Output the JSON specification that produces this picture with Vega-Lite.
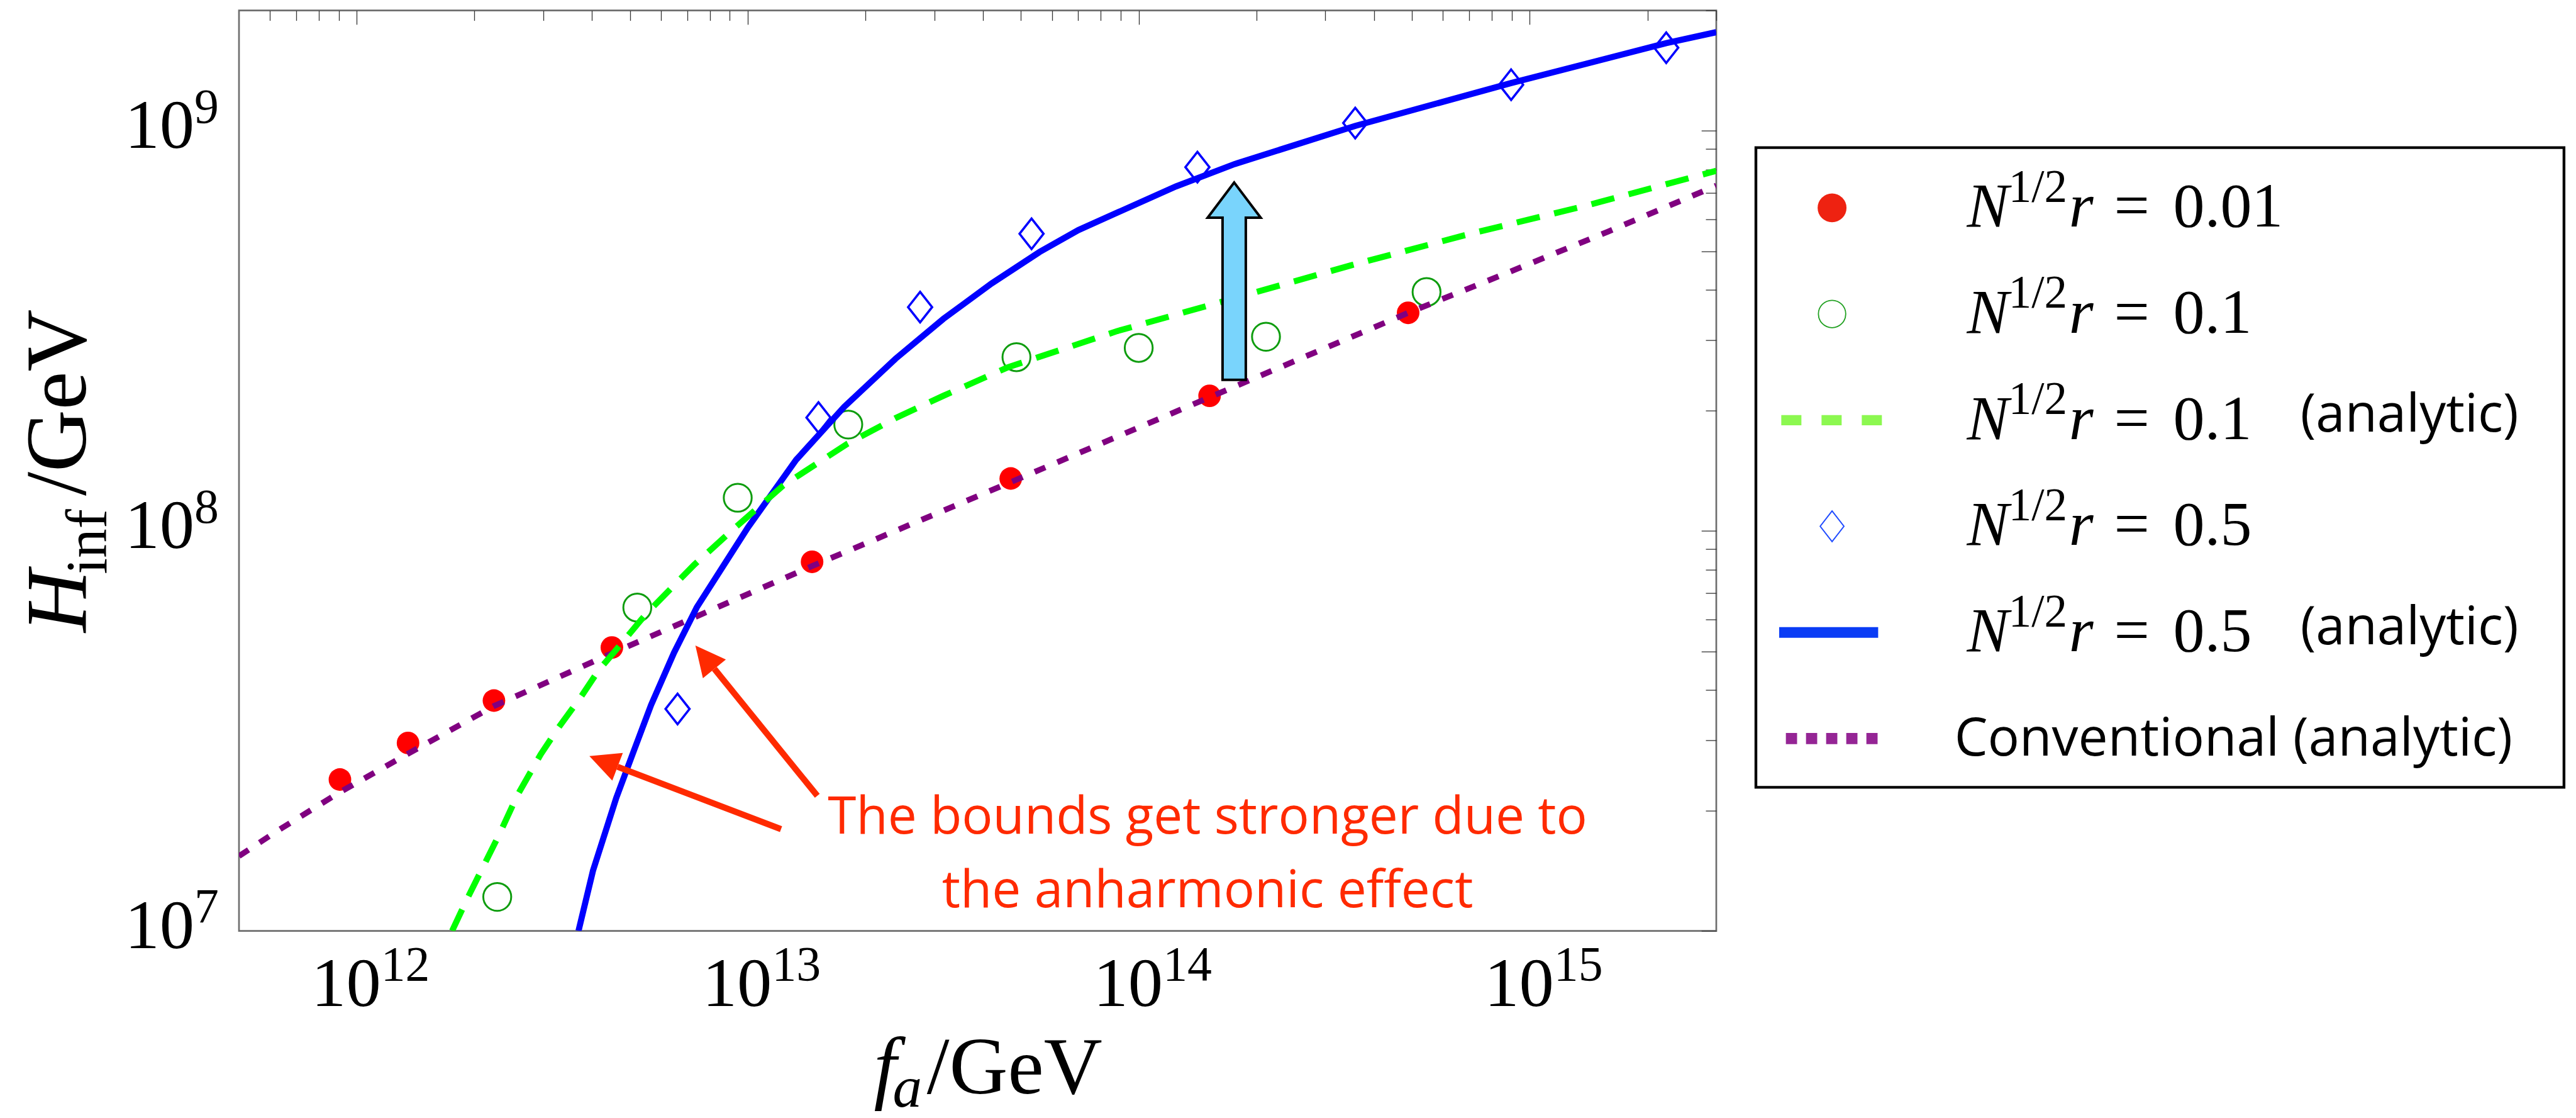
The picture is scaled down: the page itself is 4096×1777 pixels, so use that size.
{
  "$schema": "https://vega.github.io/schema/vega-lite/v6.json",
  "background": "white",
  "autosize": {"type": "pad"},
  "padding": {"left": 25, "top": 14.6, "right": 0, "bottom": 0},
  "config": {"view": {"stroke": null}},
  "datasets": {
    "red": [
      {"f": 9.06e11, "H": 2.39e7}, {"f": 1.353e12, "H": 2.95e7}, {"f": 2.244e12, "H": 3.765e7},
      {"f": 4.494e12, "H": 5.11e7}, {"f": 1.461e13, "H": 8.37e7}, {"f": 4.707e13, "H": 1.352e8},
      {"f": 1.518e14, "H": 2.176e8}, {"f": 4.887e14, "H": 3.509e8}
    ],
    "green": [
      {"f": 2.288e12, "H": 1.216e7}, {"f": 5.22e12, "H": 6.43e7}, {"f": 9.43e12, "H": 1.21e8},
      {"f": 1.808e13, "H": 1.844e8}, {"f": 4.868e13, "H": 2.718e8}, {"f": 1.0e14, "H": 2.867e8},
      {"f": 2.116e14, "H": 3.057e8}, {"f": 5.447e14, "H": 3.955e8}
    ],
    "blue": [
      {"f": 6.616e12, "H": 3.588e7}, {"f": 1.517e13, "H": 1.92e8}, {"f": 2.76e13, "H": 3.625e8},
      {"f": 5.32e13, "H": 5.529e8}, {"f": 1.413e14, "H": 8.115e8}, {"f": 3.579e14, "H": 1.046e9},
      {"f": 8.963e14, "H": 1.304e9}, {"f": 2.234e15, "H": 1.614e9}
    ],
    "conv": [
      {"f": 5.0e11, "H": 1.538e7}, {"f": 6.31e11, "H": 1.786e7}, {"f": 9.064e11, "H": 2.223e7},
      {"f": 1.353e12, "H": 2.773e7}, {"f": 2.244e12, "H": 3.648e7}, {"f": 4.494e12, "H": 4.943e7},
      {"f": 1.461e13, "H": 8.166e7}, {"f": 4.707e13, "H": 1.324e8}, {"f": 1.518e14, "H": 2.158e8},
      {"f": 4.887e14, "H": 3.508e8}, {"f": 8.913e14, "H": 4.446e8}, {"f": 1.585e15, "H": 5.598e8},
      {"f": 3.0e15, "H": 7.295e8}
    ],
    "greenAnalytic": [
      {"f": 1.754e12, "H": 1.0e7}, {"f": 1.927e12, "H": 1.216e7}, {"f": 2.135e12, "H": 1.486e7},
      {"f": 2.326e12, "H": 1.759e7}, {"f": 2.578e12, "H": 2.186e7}, {"f": 2.955e12, "H": 2.762e7},
      {"f": 3.274e12, "H": 3.212e7}, {"f": 3.754e12, "H": 3.86e7}, {"f": 4.16e12, "H": 4.487e7},
      {"f": 4.611e12, "H": 5.047e7}, {"f": 5.471e12, "H": 6.167e7}, {"f": 6.493e12, "H": 7.325e7},
      {"f": 7.293e12, "H": 8.222e7}, {"f": 9.118e12, "H": 1.003e8}, {"f": 1.233e13, "H": 1.299e8},
      {"f": 1.798e13, "H": 1.651e8}, {"f": 2.387e13, "H": 1.913e8}, {"f": 3.168e13, "H": 2.177e8},
      {"f": 4.619e13, "H": 2.562e8}, {"f": 8.806e13, "H": 3.158e8}, {"f": 1.759e14, "H": 3.817e8},
      {"f": 3.513e14, "H": 4.62e8}, {"f": 7.021e14, "H": 5.525e8}, {"f": 1.402e15, "H": 6.511e8},
      {"f": 3.0e15, "H": 7.945e8}
    ],
    "blueAnalytic": [
      {"f": 3.692e12, "H": 1.0e7}, {"f": 4.021e12, "H": 1.415e7}, {"f": 4.611e12, "H": 2.149e7},
      {"f": 5.107e12, "H": 2.809e7}, {"f": 5.661e12, "H": 3.671e7}, {"f": 6.477e12, "H": 4.955e7},
      {"f": 7.408e12, "H": 6.437e7}, {"f": 1.002e13, "H": 1.021e8}, {"f": 1.33e13, "H": 1.505e8},
      {"f": 1.765e13, "H": 2.041e8}, {"f": 2.387e13, "H": 2.692e8}, {"f": 3.168e13, "H": 3.391e8},
      {"f": 4.204e13, "H": 4.153e8}, {"f": 5.578e13, "H": 4.979e8}, {"f": 7.009e13, "H": 5.649e8},
      {"f": 8.806e13, "H": 6.244e8}, {"f": 1.245e14, "H": 7.261e8}, {"f": 1.759e14, "H": 8.26e8},
      {"f": 3.579e14, "H": 1.029e9}, {"f": 8.963e14, "H": 1.317e9}, {"f": 2.236e15, "H": 1.657e9},
      {"f": 3.0e15, "H": 1.765e9}
    ],
    "arrows": [
      {"id": 0, "f0": 1.2167e13, "H0": 1.796e7, "f1": 4.647e12, "H1": 2.572e7},
      {"id": 1, "f0": 1.5066e13, "H0": 2.176e7, "f1": 8.219e12, "H1": 4.519e7}
    ],
    "yticks": [{"v": 1e7, "e": "7"}, {"v": 1e8, "e": "8"}, {"v": 1e9, "e": "9"}],
    "xticks": [{"v": 1e12, "e": "12"}, {"v": 1e13, "e": "13"}, {"v": 1e14, "e": "14"}, {"v": 1e15, "e": "15"}],
    "legend": [
      {"k": 0, "val": "0.01", "note": ""},
      {"k": 1, "val": "0.1", "note": ""},
      {"k": 2, "val": "0.1", "note": "(analytic)"},
      {"k": 3, "val": "0.5", "note": ""},
      {"k": 4, "val": "0.5", "note": "(analytic)"},
      {"k": 5, "val": "", "note": "Conventional (analytic)"}
    ]
  },
  "spacing": 58,
  "hconcat": [
    {
      "width": 2349,
      "height": 1463,
      "view": {"stroke": "#6e6e6e", "strokeWidth": 2.7, "fill": "white"},
      "resolve": {"axis": {"x": "independent", "y": "independent"}},
      "layer": [
        {
          "layer": [
            {
              "data": {"name": "red"},
              "mark": {"type": "point", "shape": "circle", "filled": true, "size": 1290, "color": "#ff0000", "opacity": 1, "strokeWidth": 0},
              "encoding": {
                "x": {
                  "field": "f", "type": "quantitative",
                  "scale": {"type": "log", "domain": [5e11, 3e15], "nice": false},
                  "axis": {
                    "orient": "bottom", "title": null, "labels": false, "domain": false,
                    "values": [6e11, 7e11, 8e11, 9e11, 1e12, 2e12, 3e12, 4e12, 5e12, 6e12, 7e12, 8e12, 9e12, 1e13, 2e13, 3e13, 4e13, 5e13, 6e13, 7e13, 8e13, 9e13, 1e14, 2e14, 3e14, 4e14, 5e14, 6e14, 7e14, 8e14, 9e14, 1e15, 2e15, 3e15],
                    "tickColor": "#333333", "tickWidth": 1.3,
                    "tickSize": {"condition": {"test": "abs(log(datum.value)/LN10 - round(log(datum.value)/LN10)) < 0.001", "value": -22.2}, "value": -16},
                    "grid": true, "gridColor": "#d9d9d9", "gridWidth": 1.4,
                    "gridOpacity": {"condition": {"test": "abs(log(datum.value)/LN10 - round(log(datum.value)/LN10)) < 0.001", "value": 1}, "value": 0}
                  }
                },
                "y": {
                  "field": "H", "type": "quantitative",
                  "scale": {"type": "log", "domain": [1e7, 2e9], "nice": false},
                  "axis": {
                    "orient": "left", "title": null, "labels": false, "domain": false,
                    "values": [1e7, 2e7, 3e7, 4e7, 5e7, 6e7, 7e7, 8e7, 9e7, 1e8, 2e8, 3e8, 4e8, 5e8, 6e8, 7e8, 8e8, 9e8, 1e9, 2e9],
                    "tickColor": "#333333", "tickWidth": 1.3,
                    "tickSize": {"condition": {"test": "abs(log(datum.value)/LN10 - round(log(datum.value)/LN10)) < 0.001 || abs(log(datum.value/5)/LN10 - round(log(datum.value/5)/LN10)) < 0.001", "value": -23.8}, "value": -17},
                    "grid": true, "gridColor": "#d9d9d9", "gridWidth": 1.4,
                    "gridOpacity": {"condition": {"test": "abs(log(datum.value)/LN10 - round(log(datum.value)/LN10)) < 0.001 || abs(log(datum.value/5)/LN10 - round(log(datum.value/5)/LN10)) < 0.001", "value": 1}, "value": 0}
                  }
                }
              }
            },
            {
              "data": {"name": "green"},
              "mark": {"type": "point", "shape": "circle", "filled": false, "size": 1971, "stroke": "#0f9d0f", "strokeWidth": 3, "opacity": 1},
              "encoding": {
                "x": {"field": "f", "type": "quantitative", "axis": null},
                "y": {"field": "H", "type": "quantitative", "axis": null}
              }
            },
            {
              "data": {"name": "blue"},
              "mark": {"type": "point", "shape": "M0,-1L0.789,0L0,1L-0.789,0Z", "filled": false, "size": 2343, "stroke": "#0000ff", "strokeWidth": 3.6, "opacity": 1},
              "encoding": {
                "x": {"field": "f", "type": "quantitative", "axis": null},
                "y": {"field": "H", "type": "quantitative", "axis": null}
              }
            },
            {
              "data": {"name": "conv"},
              "mark": {"type": "line", "color": "#800080", "strokeWidth": 9.2, "strokeDash": [18.2, 20.9], "clip": true},
              "encoding": {
                "x": {"field": "f", "type": "quantitative", "axis": null},
                "y": {"field": "H", "type": "quantitative", "axis": null}
              }
            },
            {
              "data": {"name": "blueAnalytic"},
              "mark": {"type": "line", "color": "#0000ff", "strokeWidth": 9.8, "clip": true},
              "encoding": {
                "x": {"field": "f", "type": "quantitative", "axis": null},
                "y": {"field": "H", "type": "quantitative", "axis": null}
              }
            },
            {
              "data": {"name": "greenAnalytic"},
              "mark": {"type": "line", "color": "#00ff00", "strokeWidth": 9.7, "strokeDash": [37.5, 23.6], "clip": true},
              "encoding": {
                "x": {"field": "f", "type": "quantitative", "axis": null},
                "y": {"field": "H", "type": "quantitative", "axis": null}
              }
            },
            {
              "data": {"values": [{"f": 1.7545e14, "H": 4.21e8}]},
              "mark": {"type": "point", "shape": "M0,-1L0.269,-0.644L0.118,-0.644L0.118,1L-0.118,1L-0.118,-0.644L-0.269,-0.644Z", "size": 98282, "filled": true, "fill": "#79d4fc", "stroke": "#000000", "strokeWidth": 4, "opacity": 1},
              "encoding": {
                "x": {"field": "f", "type": "quantitative", "axis": null},
                "y": {"field": "H", "type": "quantitative", "axis": null}
              }
            },
            {
              "data": {"name": "arrows"},
              "mark": {"type": "rule", "color": "#ff2a00", "strokeWidth": 9.8},
              "encoding": {
                "x": {"field": "f0", "type": "quantitative", "axis": null},
                "y": {"field": "H0", "type": "quantitative", "axis": null},
                "x2": {"field": "f1"},
                "y2": {"field": "H1"}
              }
            },
            {
              "data": {"name": "arrows"},
              "transform": [{"filter": "datum.id == 0"}],
              "mark": {"type": "point", "shape": "M0,-2L0.98,0L-0.98,0Z", "size": 2300, "filled": true, "color": "#ff2a00", "opacity": 1, "angle": 290.9},
              "encoding": {
                "x": {"field": "f1", "type": "quantitative", "axis": null},
                "y": {"field": "H1", "type": "quantitative", "axis": null}
              }
            },
            {
              "data": {"name": "arrows"},
              "transform": [{"filter": "datum.id == 1"}],
              "mark": {"type": "point", "shape": "M0,-2L0.98,0L-0.98,0Z", "size": 2300, "filled": true, "color": "#ff2a00", "opacity": 1, "angle": 320.95},
              "encoding": {
                "x": {"field": "f1", "type": "quantitative", "axis": null},
                "y": {"field": "H1", "type": "quantitative", "axis": null}
              }
            },
            {
              "data": {"name": "yticks"},
              "mark": {"type": "text", "text": "10", "font": "Liberation Serif", "fontSize": 110.6, "align": "right", "baseline": "alphabetic", "dx": -71, "dy": 27.5, "color": "#000000"},
              "encoding": {
                "x": {"datum": 5e11, "type": "quantitative", "axis": null},
                "y": {"field": "v", "type": "quantitative", "axis": null}
              }
            },
            {
              "data": {"name": "yticks"},
              "mark": {"type": "text", "font": "Liberation Serif", "fontSize": 77.8, "align": "left", "baseline": "alphabetic", "dx": -71, "dy": -13.1, "color": "#000000"},
              "encoding": {
                "text": {"field": "e"},
                "x": {"datum": 5e11, "type": "quantitative", "axis": null},
                "y": {"field": "v", "type": "quantitative", "axis": null}
              }
            },
            {
              "data": {"name": "xticks"},
              "mark": {"type": "text", "text": "10", "font": "Liberation Serif", "fontSize": 110.6, "align": "right", "baseline": "alphabetic", "dx": 38.5, "dy": 119.3, "color": "#000000"},
              "encoding": {
                "x": {"field": "v", "type": "quantitative", "axis": null},
                "y": {"datum": 1e7, "type": "quantitative", "axis": null}
              }
            },
            {
              "data": {"name": "xticks"},
              "mark": {"type": "text", "font": "Liberation Serif", "fontSize": 77.8, "align": "left", "baseline": "alphabetic", "dx": 38.5, "dy": 78.1, "color": "#000000"},
              "encoding": {
                "text": {"field": "e"},
                "x": {"field": "v", "type": "quantitative", "axis": null},
                "y": {"datum": 1e7, "type": "quantitative", "axis": null}
              }
            },
            {
              "data": {"values": [{"s": "H"}]},
              "mark": {"type": "text", "font": "Liberation Serif", "fontStyle": "italic", "fontSize": 136.8, "angle": 270, "align": "left", "baseline": "alphabetic", "dx": -256.9, "dy": -243.8, "color": "#000000"},
              "encoding": {
                "text": {"field": "s"},
                "x": {"datum": 5e11, "type": "quantitative", "axis": null},
                "y": {"datum": 1.41421e8, "type": "quantitative", "axis": null}
              }
            },
            {
              "data": {"values": [{"s": "inf"}]},
              "mark": {"type": "text", "font": "Liberation Serif", "fontSize": 93.2, "angle": 270, "align": "left", "baseline": "alphabetic", "dx": -164.7, "dy": -211.5, "color": "#000000"},
              "encoding": {
                "text": {"field": "s"},
                "x": {"datum": 5e11, "type": "quantitative", "axis": null},
                "y": {"datum": 1.41421e8, "type": "quantitative", "axis": null}
              }
            },
            {
              "data": {"values": [{"s": "/GeV"}]},
              "mark": {"type": "text", "font": "Liberation Serif", "fontSize": 136.8, "angle": 270, "align": "left", "baseline": "alphabetic", "dx": -39.9, "dy": -243.8, "color": "#000000"},
              "encoding": {
                "text": {"field": "s"},
                "x": {"datum": 5e11, "type": "quantitative", "axis": null},
                "y": {"datum": 1.41421e8, "type": "quantitative", "axis": null}
              }
            },
            {
              "data": {"values": [{"s": "f"}]},
              "mark": {"type": "text", "font": "Liberation Serif", "fontStyle": "italic", "fontSize": 128.8, "align": "left", "baseline": "alphabetic", "dx": -165, "dy": 258, "color": "#000000"},
              "encoding": {
                "text": {"field": "s"},
                "x": {"datum": 3.873e13, "type": "quantitative", "axis": null},
                "y": {"datum": 1e7, "type": "quantitative", "axis": null}
              }
            },
            {
              "data": {"values": [{"s": "a"}]},
              "mark": {"type": "text", "font": "Liberation Serif", "fontStyle": "italic", "fontSize": 93.2, "align": "left", "baseline": "alphabetic", "dx": -135, "dy": 279, "color": "#000000"},
              "encoding": {
                "text": {"field": "s"},
                "x": {"datum": 3.873e13, "type": "quantitative", "axis": null},
                "y": {"datum": 1e7, "type": "quantitative", "axis": null}
              }
            },
            {
              "data": {"values": [{"s": "/GeV"}]},
              "mark": {"type": "text", "font": "Liberation Serif", "fontSize": 128.8, "align": "left", "baseline": "alphabetic", "dx": -80.8, "dy": 258, "color": "#000000"},
              "encoding": {
                "text": {"field": "s"},
                "x": {"datum": 3.873e13, "type": "quantitative", "axis": null},
                "y": {"datum": 1e7, "type": "quantitative", "axis": null}
              }
            }
          ]
        },
        {
          "data": {"values": [{"s": "The bounds get stronger due to\nthe anharmonic effect"}]},
          "mark": {"type": "text", "font": "Open Sans", "fontSize": 82, "lineHeight": 117, "lineBreak": "\n", "align": "center", "baseline": "alphabetic", "color": "#ff2a00"},
          "encoding": {
            "text": {"field": "s"},
            "x": {
              "datum": 1.5e14, "type": "quantitative",
              "axis": {
                "orient": "top", "title": null, "labels": false, "domain": false, "grid": false,
                "values": [6e11, 7e11, 8e11, 9e11, 1e12, 2e12, 3e12, 4e12, 5e12, 6e12, 7e12, 8e12, 9e12, 1e13, 2e13, 3e13, 4e13, 5e13, 6e13, 7e13, 8e13, 9e13, 1e14, 2e14, 3e14, 4e14, 5e14, 6e14, 7e14, 8e14, 9e14, 1e15, 2e15, 3e15],
                "tickColor": "#333333", "tickWidth": 1.3,
                "tickSize": {"condition": {"test": "abs(log(datum.value)/LN10 - round(log(datum.value)/LN10)) < 0.001", "value": -22.2}, "value": -16}
              }
            },
            "y": {
              "datum": 1.753e7, "type": "quantitative",
              "axis": {
                "orient": "right", "title": null, "labels": false, "domain": false, "grid": false,
                "values": [1e7, 2e7, 3e7, 4e7, 5e7, 6e7, 7e7, 8e7, 9e7, 1e8, 2e8, 3e8, 4e8, 5e8, 6e8, 7e8, 8e8, 9e8, 1e9, 2e9],
                "tickColor": "#333333", "tickWidth": 1.3,
                "tickSize": {"condition": {"test": "abs(log(datum.value)/LN10 - round(log(datum.value)/LN10)) < 0.001 || abs(log(datum.value/5)/LN10 - round(log(datum.value/5)/LN10)) < 0.001", "value": -23.8}, "value": -17}
              }
            }
          }
        }
      ]
    },
    {
      "spacing": 0,
      "vconcat": [
        {
          "width": 1284.9,
          "height": 214.9,
          "data": {"values": []},
          "mark": "point",
          "view": {"stroke": null}
        },
        {
          "width": 1284.9,
          "height": 1016.8,
          "view": {"stroke": "#000000", "strokeWidth": 4.4, "fill": "white"},
          "data": {"name": "legend"},
          "encoding": {
            "y": {"field": "k", "type": "ordinal", "scale": {"type": "point", "domain": [0, 1, 2, 3, 4, 5], "padding": 0.5136, "align": 0.5528}, "axis": null}
          },
          "layer": [
            {
              "transform": [{"filter": "datum.k == 0"}],
              "mark": {"type": "point", "shape": "circle", "filled": true, "size": 2107, "color": "#ee2211", "opacity": 1, "strokeWidth": 0},
              "encoding": {"x": {"datum": 0.09425, "type": "quantitative", "scale": {"domain": [0, 1], "nice": false, "zero": false}, "axis": null}}
            },
            {
              "transform": [{"filter": "datum.k == 1"}],
              "mark": {"type": "point", "shape": "circle", "filled": false, "size": 1892, "stroke": "#20a020", "strokeWidth": 1.8, "opacity": 1},
              "encoding": {"x": {"datum": 0.09425, "type": "quantitative", "scale": {"domain": [0, 1], "nice": false, "zero": false}, "axis": null}}
            },
            {
              "transform": [{"filter": "datum.k == 2"}],
              "mark": {"type": "rule", "color": "#8cf850", "strokeWidth": 16.3, "strokeDash": [32, 32]},
              "encoding": {
                "x": {"datum": 0.0314, "type": "quantitative", "scale": {"domain": [0, 1], "nice": false, "zero": false}, "axis": null},
                "x2": {"datum": 0.1559}
              }
            },
            {
              "transform": [{"filter": "datum.k == 3"}],
              "mark": {"type": "point", "shape": "M0,-1L0.773,0L0,1L-0.773,0Z", "filled": false, "size": 2381, "stroke": "#1f4bff", "strokeWidth": 2, "opacity": 1},
              "encoding": {"x": {"datum": 0.09425, "type": "quantitative", "scale": {"domain": [0, 1], "nice": false, "zero": false}, "axis": null}}
            },
            {
              "transform": [{"filter": "datum.k == 4"}],
              "mark": {"type": "rule", "color": "#0a3cf5", "strokeWidth": 16.9},
              "encoding": {
                "x": {"datum": 0.0288, "type": "quantitative", "scale": {"domain": [0, 1], "nice": false, "zero": false}, "axis": null},
                "x2": {"datum": 0.1513}
              }
            },
            {
              "transform": [{"filter": "datum.k == 5"}],
              "mark": {"type": "rule", "color": "#952595", "strokeWidth": 17.8, "strokeDash": [17.8, 14.2]},
              "encoding": {
                "x": {"datum": 0.0371, "type": "quantitative", "scale": {"domain": [0, 1], "nice": false, "zero": false}, "axis": null},
                "x2": {"datum": 0.1506}
              }
            },
            {
              "transform": [{"filter": "datum.val != ''"}],
              "mark": {"type": "text", "text": "N", "font": "Liberation Serif", "fontStyle": "italic", "fontSize": 100, "align": "left", "baseline": "alphabetic", "dy": 30, "color": "#000000"},
              "encoding": {"x": {"datum": 0.2612, "type": "quantitative", "scale": {"domain": [0, 1], "nice": false, "zero": false}, "axis": null}}
            },
            {
              "transform": [{"filter": "datum.val != ''"}],
              "mark": {"type": "text", "text": "1/2", "font": "Liberation Serif", "fontSize": 73, "align": "left", "baseline": "alphabetic", "dy": -9.6, "color": "#000000"},
              "encoding": {"x": {"datum": 0.3126, "type": "quantitative", "scale": {"domain": [0, 1], "nice": false, "zero": false}, "axis": null}}
            },
            {
              "transform": [{"filter": "datum.val != ''"}],
              "mark": {"type": "text", "text": "r", "font": "Liberation Serif", "fontStyle": "italic", "fontSize": 100, "align": "left", "baseline": "alphabetic", "dy": 30, "color": "#000000"},
              "encoding": {"x": {"datum": 0.3873, "type": "quantitative", "scale": {"domain": [0, 1], "nice": false, "zero": false}, "axis": null}}
            },
            {
              "transform": [{"filter": "datum.val != ''"}],
              "mark": {"type": "text", "text": "=", "font": "Liberation Serif", "fontSize": 100, "align": "left", "baseline": "alphabetic", "dy": 30, "color": "#000000"},
              "encoding": {"x": {"datum": 0.4432, "type": "quantitative", "scale": {"domain": [0, 1], "nice": false, "zero": false}, "axis": null}}
            },
            {
              "transform": [{"filter": "datum.val != ''"}],
              "mark": {"type": "text", "font": "Liberation Serif", "fontSize": 100, "align": "left", "baseline": "alphabetic", "dy": 30, "color": "#000000"},
              "encoding": {
                "text": {"field": "val"},
                "x": {"datum": 0.5163, "type": "quantitative", "scale": {"domain": [0, 1], "nice": false, "zero": false}, "axis": null}
              }
            },
            {
              "transform": [{"filter": "datum.note == '(analytic)'"}],
              "mark": {"type": "text", "font": "Open Sans", "fontSize": 83.5, "align": "left", "baseline": "alphabetic", "dy": 18.6, "color": "#000000"},
              "encoding": {
                "text": {"field": "note"},
                "x": {"datum": 0.6737, "type": "quantitative", "scale": {"domain": [0, 1], "nice": false, "zero": false}, "axis": null}
              }
            },
            {
              "transform": [{"filter": "datum.k == 5"}],
              "mark": {"type": "text", "font": "Open Sans", "fontSize": 84, "align": "left", "baseline": "alphabetic", "dy": 26.6, "color": "#000000"},
              "encoding": {
                "text": {"field": "note"},
                "x": {"datum": 0.2457, "type": "quantitative", "scale": {"domain": [0, 1], "nice": false, "zero": false}, "axis": null}
              }
            }
          ]
        }
      ]
    }
  ]
}
